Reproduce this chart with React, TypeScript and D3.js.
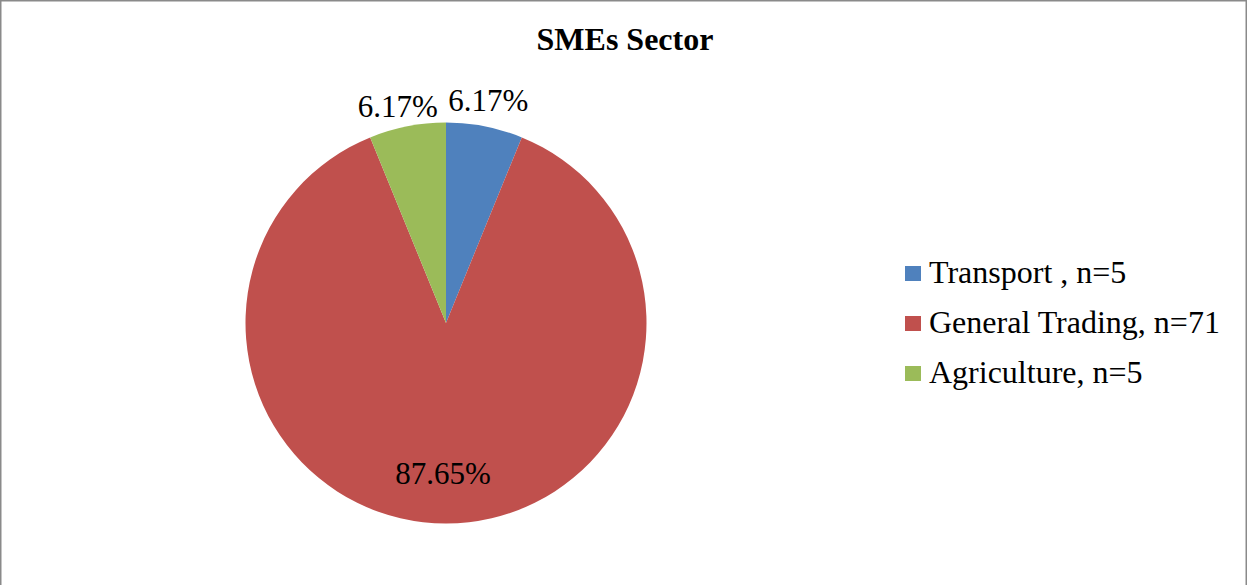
import React from "react";
import * as d3 from "d3";

const categories = ["Transport , n=5", "General Trading, n=71", "Agriculture, n=5"];
const counts = [5, 71, 5];
const percentLabels = ["6.17%", "87.65%", "6.17%"];
const colors = ["#4F81BD", "#C0504D", "#9BBB59"];
const title = "SMEs Sector";

const W = 1247;
const H = 585;
const FONT = "'Liberation Serif', 'Times New Roman', serif";

export default function App() {
  const cx = 446;
  const cy = 323;
  const r = 200.5;

  const pie = d3
    .pie<number>()
    .sort(null)
    .value((d) => d)
    .startAngle(0)
    .endAngle(2 * Math.PI);
  const arcs = pie(counts);
  const arcGen = d3.arc<d3.PieArcDatum<number>>().innerRadius(0).outerRadius(r);

  const total = d3.sum(counts);

  const legendX = 905;
  const legendY0 = 283;
  const legendStep = 50;

  return (
    <svg
      width={W}
      height={H}
      style={{ position: "absolute", left: 0, top: 0, background: "#fff" }}
    >
      <rect x={0.75} y={0.75} width={W - 1.5} height={H + 50} fill="#fff" stroke="#8a8a8a" strokeWidth={1.5} />
      <text
        x={625}
        y={50}
        textAnchor="middle"
        fontFamily={FONT}
        fontWeight="bold"
        fontSize={32}
        fill="#000"
      >
        {title}
      </text>
      <g transform={`translate(${cx},${cy})`}>
        {arcs.map((a, i) => (
          <path key={i} d={arcGen(a) || ""} fill={colors[i]} />
        ))}
        {arcs.map((a, i) => {
          const mid = (a.startAngle + a.endAngle) / 2;
          const big = counts[i] / total > 0.5;
          const left = mid > Math.PI;
          const rad = big ? r * 0.75 : 224;
          const x = Math.sin(mid) * rad - (big ? 3 : left ? 5 : 1);
          const y = -Math.cos(mid) * rad + (big ? 11 : left ? 14 : 8);
          return (
            <text
              key={i}
              x={x}
              y={y}
              textAnchor="middle"
              fontFamily={FONT}
              fontSize={31}
              fill="#000"
            >
              {percentLabels[i]}
            </text>
          );
        })}
      </g>
      {categories.map((c, i) => (
        <g key={c}>
          <rect x={legendX} y={legendY0 + i * legendStep - 17} width={16} height={15} fill={colors[i]} />
          <text
            x={legendX + 24}
            y={legendY0 + i * legendStep}
            fontFamily={FONT}
            fontSize={32}
            fill="#000"
          >
            {c}
          </text>
        </g>
      ))}
    </svg>
  );
}
